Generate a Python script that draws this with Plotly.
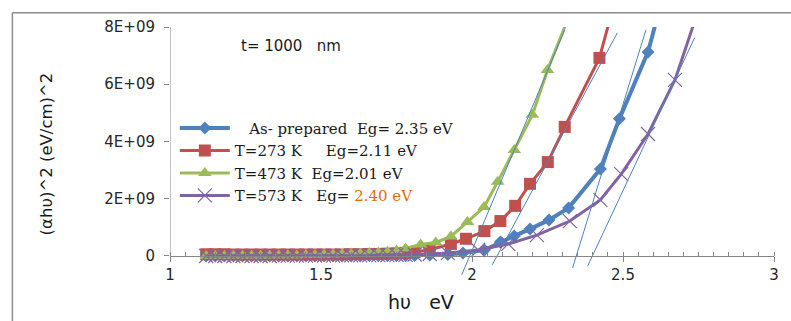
import plotly.graph_objects as go

# ---------------- data (y values in units of 1E+09 (eV/cm)^2) ----------------
as_prep_x = [1.12, 1.15, 1.18, 1.21, 1.24, 1.27, 1.30, 1.33, 1.36, 1.39, 1.42, 1.45, 1.48, 1.51,
             1.54, 1.57, 1.60, 1.63, 1.66, 1.69, 1.72, 1.75, 1.78, 1.81, 1.86, 1.92, 1.97, 2.041,
             2.094, 2.14, 2.192, 2.255, 2.32, 2.425, 2.488, 2.583, 2.62]
as_prep_y = [0.00, 0.00, 0.00, 0.00, 0.00, 0.00, 0.00, 0.00, 0.00, 0.00, 0.00, 0.00, 0.00, 0.00,
             0.00, 0.00, 0.00, 0.00, 0.01, 0.01, 0.01, 0.01, 0.01, 0.02, 0.03, 0.05, 0.10, 0.21,
             0.49, 0.70, 0.94, 1.26, 1.68, 3.04, 4.79, 7.13, 8.60]

t273_x = [1.12, 1.15, 1.18, 1.21, 1.24, 1.27, 1.30, 1.33, 1.36, 1.39, 1.42, 1.45, 1.48, 1.51,
          1.54, 1.57, 1.60, 1.63, 1.66, 1.69, 1.72, 1.75, 1.78, 1.81, 1.86, 1.93, 1.98, 2.041,
          2.094, 2.143, 2.192, 2.251, 2.307, 2.422, 2.46]
t273_y = [0.06, 0.06, 0.06, 0.05, 0.05, 0.05, 0.05, 0.05, 0.05, 0.05, 0.05, 0.05, 0.05, 0.05,
          0.05, 0.05, 0.06, 0.06, 0.07, 0.07, 0.08, 0.09, 0.11, 0.14, 0.22, 0.42, 0.60, 0.87,
          1.22, 1.75, 2.52, 3.28, 4.51, 6.92, 8.40]

t473_x = [1.12, 1.15, 1.18, 1.21, 1.24, 1.27, 1.30, 1.33, 1.36, 1.39, 1.42, 1.45, 1.48, 1.51,
          1.54, 1.57, 1.60, 1.63, 1.66, 1.69, 1.72, 1.75, 1.78, 1.83, 1.88, 1.93, 1.985, 2.04,
          2.085, 2.14, 2.20, 2.25, 2.33]
t473_y = [0.00, 0.00, 0.00, 0.01, 0.01, 0.01, 0.01, 0.01, 0.02, 0.02, 0.02, 0.03, 0.03, 0.04,
          0.05, 0.06, 0.07, 0.08, 0.10, 0.12, 0.15, 0.19, 0.26, 0.40, 0.47, 0.68, 1.19, 1.71,
          2.59, 3.70, 4.93, 6.50, 8.60]

t573_x = [1.12, 1.15, 1.18, 1.21, 1.24, 1.27, 1.30, 1.33, 1.36, 1.39, 1.42, 1.45, 1.48, 1.51,
          1.54, 1.57, 1.60, 1.63, 1.66, 1.69, 1.72, 1.75, 1.78, 1.81, 1.86, 1.92, 2.02, 2.12,
          2.215, 2.324, 2.425, 2.494, 2.583, 2.672, 2.75]
t573_y = [0.00, 0.00, 0.00, 0.00, 0.00, 0.00, 0.00, 0.00, 0.01, 0.01, 0.01, 0.01, 0.01, 0.01,
          0.01, 0.02, 0.02, 0.02, 0.02, 0.03, 0.03, 0.04, 0.04, 0.05, 0.07, 0.10, 0.21, 0.42,
          0.73, 1.22, 1.96, 2.86, 4.26, 6.15, 8.60]

# tangent (extrapolation) lines: [start, end] for each series
fit_as_prep_x = [2.333, 2.576]
fit_as_prep_y = [-0.42, 7.90]
fit_t273_x = [2.067, 2.481]
fit_t273_y = [-0.31, 7.79]
fit_t473_x = [1.966, 2.307]
fit_t473_y = [-0.66, 7.90]
fit_t573_x = [2.383, 2.737]
fit_t573_y = [-0.35, 7.62]

series_names = [
    "\u00a0\u00a0\u00a0As- prepared\u00a0\u00a0Eg= 2.35 eV",
    "T=273 K\u00a0\u00a0\u00a0\u00a0\u00a0Eg=2.11 eV",
    "T=473 K\u00a0\u00a0Eg=2.01 eV",
    "T=573 K\u00a0\u00a0\u00a0Eg= <span style='color:#E36C09'>2.40 eV</span>",
]

y_tick_vals = [0, 2, 4, 6, 8]
y_tick_text = ["0", "2E+09", "4E+09", "6E+09", "8E+09"]
x_tick_vals = [1, 1.5, 2, 2.5, 3]
x_tick_text = ["1", "1.5", "2", "2.5", "3"]

E9 = 1e9
def sc(v):
    return [a * E9 for a in v]

BLUE = "#4F81BD"
RED = "#C0504D"
GREEN = "#9BBB59"
PURPLE = "#8064A2"
AXIS = "#868686"

fig = go.Figure()

fig.add_trace(go.Scatter(x=as_prep_x, y=sc(as_prep_y), mode="lines+markers", name=series_names[0],
                         legendgroup="a", line=dict(color=BLUE, width=4),
                         marker=dict(symbol="diamond", size=10, color=BLUE)))
fig.add_trace(go.Scatter(x=t273_x, y=sc(t273_y), mode="lines+markers", name=series_names[1],
                         legendgroup="b", line=dict(color=RED, width=3),
                         marker=dict(symbol="square", size=12, color=RED)))
fig.add_trace(go.Scatter(x=t473_x, y=sc(t473_y), mode="lines+markers", name=series_names[2],
                         legendgroup="c", line=dict(color=GREEN, width=3),
                         marker=dict(symbol="triangle-up", size=12, color=GREEN)))
fig.add_trace(go.Scatter(x=t573_x, y=sc(t573_y), mode="lines+markers", name=series_names[3],
                         legendgroup="d", line=dict(color=PURPLE, width=3),
                         marker=dict(symbol="x-thin", size=14, color=PURPLE,
                                     line=dict(color=PURPLE, width=1.2))))

for fx, fy in [(fit_t473_x, fit_t473_y), (fit_t273_x, fit_t273_y),
               (fit_as_prep_x, fit_as_prep_y), (fit_t573_x, fit_t573_y)]:
    fig.add_trace(go.Scatter(x=fx, y=sc(fy), mode="lines", showlegend=False,
                             hoverinfo="skip", line=dict(color=BLUE, width=1)))

ymin, ymax = -0.7, 8.0
fig.update_layout(
    width=791, height=321,
    margin=dict(l=170, r=12, t=27, b=45),
    paper_bgcolor="white", plot_bgcolor="white",
    font=dict(family="DejaVu Sans", size=14, color="#262626"),
    showlegend=True,
    legend=dict(x=0.008, y=0.66, xanchor="left", yanchor="top",
                bgcolor="rgba(0,0,0,0)", borderwidth=0,
                font=dict(family="DejaVu Serif", size=15, color="#1a1a1a"),
                itemwidth=50, tracegroupgap=0),
    xaxis=dict(range=[1, 3], tickvals=x_tick_vals, ticktext=x_tick_text,
               showgrid=False, zeroline=False, showline=True, linecolor=AXIS, linewidth=1,
               ticks="outside", ticklen=5, tickcolor=AXIS,
               minor=dict(dtick=0.05, ticks="inside", ticklen=4, tickcolor=AXIS),
               anchor="free", position=(0 - ymin) / (ymax - ymin),
               tickfont=dict(family="DejaVu Sans", size=15, color="#262626")),
    yaxis=dict(range=[ymin * E9, ymax * E9], tickvals=sc(y_tick_vals), ticktext=y_tick_text,
               showgrid=False, zeroline=False, showline=False,
               ticks="outside", ticklen=5, tickcolor=AXIS, ticklabelstandoff=6,
               tickfont=dict(family="DejaVu Sans", size=15, color="#262626")),
    shapes=[
        # y axis line from 0 to top
        dict(type="line", xref="x", yref="y", x0=1, x1=1, y0=0, y1=ymax * E9,
             line=dict(color=AXIS, width=1), layer="above"),
        # outer chart border (top and left)
        dict(type="line", xref="paper", yref="paper", x0=-0.261, x1=1.03, y0=1.057, y1=1.057,
             line=dict(color="#8c8c8c", width=1.5)),
        dict(type="line", xref="paper", yref="paper", x0=-0.261, x1=-0.261, y0=1.057, y1=-0.25,
             line=dict(color="#8c8c8c", width=1.5)),
    ],
    annotations=[
        dict(text="t= 1000\u00a0\u00a0\u00a0nm", xref="paper", yref="paper", x=0.115, y=0.925,
             xanchor="left", yanchor="middle", showarrow=False,
             font=dict(family="DejaVu Sans", size=15, color="#1a1a1a")),
        dict(text="h\u03c5\u00a0\u00a0\u00a0eV", xref="paper", yref="paper", x=0.416, y=-0.105,
             xanchor="center", yanchor="middle", showarrow=False,
             font=dict(family="DejaVu Sans", size=19, color="#1a1a1a")),
        dict(text="(\u03b1h\u03c5)^2 (eV/cm)^2", xref="paper", yref="paper", x=-0.203, y=0.49,
             xanchor="center", yanchor="middle", showarrow=False, textangle=-90,
             font=dict(family="DejaVu Sans", size=16.5, color="#1a1a1a")),
    ],
)

fig.write_html("out.html")
